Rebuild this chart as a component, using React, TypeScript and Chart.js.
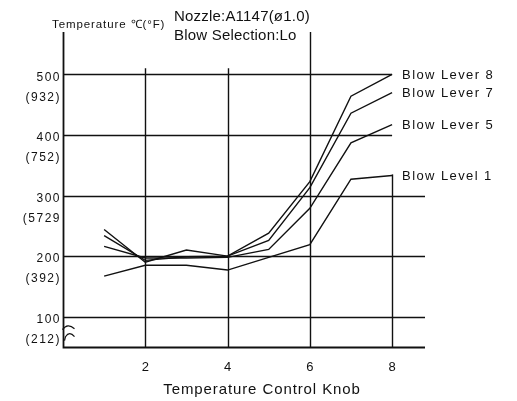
import React, { useEffect, useRef } from 'react';
import { Chart, registerables } from 'chart.js';

Chart.register(...registerables);

// ---- data ----
const knob = [1, 2, 3, 4, 5, 6, 7, 8];
const blowLevel1 = [167, 185, 185, 177, 198, 219, 327, 333];
const blowLever5 = [216, 197, 197, 198, 211, 279, 387, 417];
const blowLever7 = [234, 193, 199, 200, 226, 313, 436, 470];
const blowLever8 = [244, 190, 210, 200, 238, 323, 464, 500];
const seriesNames = ['Blow Level 1', 'Blow Lever 5', 'Blow Lever 7', 'Blow Lever 8'];
const xTicks = [2, 4, 6, 8];
const yTicksC = ['100', '200', '300', '400', '500'];
const yTicksF = ['(212)', '(392)', '(5729', '(752)', '(932)'];
const titleLines = ['Nozzle:A1147(ø1.0)', 'Blow Selection:Lo'];
const yAxisTitle = 'Temperature ℃(°F)';
const xAxisTitle = 'Temperature Control Knob';

// ---- layout / style ----
const X_MIN = 0;
const X_MAX = 8.8;
const Y_MIN = 50;
const Y_MAX = 570;
const vGridTop: Record<number, number> = { 2: 510, 4: 510, 6: Y_MAX, 8: 335 };
const hGridRight: Record<string, number> = { '100': X_MAX, '200': X_MAX, '300': X_MAX, '400': 8, '500': 8 };
const INK = '#111';
const FONT = "'Liberation Sans', Arial, Helvetica, sans-serif";

const seriesValues = [blowLevel1, blowLever5, blowLever7, blowLever8];

const decorPlugin = {
  id: 'decor',
  beforeDatasetsDraw(chart: any) {
    const { ctx, scales } = chart;
    const xs = scales.x;
    const ys = scales.y;
    ctx.save();
    ctx.strokeStyle = INK;
    ctx.lineWidth = 1.4;
    // horizontal grid
    yTicksC.forEach((t) => {
      const y = Math.round(ys.getPixelForValue(Number(t))) + 0.5;
      ctx.beginPath();
      ctx.moveTo(xs.getPixelForValue(X_MIN), y);
      ctx.lineTo(xs.getPixelForValue(hGridRight[t]), y);
      ctx.stroke();
    });
    // vertical grid
    xTicks.forEach((t) => {
      const x = Math.round(xs.getPixelForValue(t)) + 0.5;
      ctx.beginPath();
      ctx.moveTo(x, ys.getPixelForValue(Y_MIN));
      ctx.lineTo(x, ys.getPixelForValue(vGridTop[t]));
      ctx.stroke();
    });
    // axes
    ctx.lineWidth = 1.8;
    const x0 = Math.round(xs.getPixelForValue(X_MIN)) + 0.5;
    const y0 = Math.round(ys.getPixelForValue(Y_MIN)) + 0.5;
    ctx.beginPath();
    ctx.moveTo(x0, ys.getPixelForValue(Y_MAX));
    ctx.lineTo(x0, y0);
    ctx.lineTo(xs.getPixelForValue(X_MAX), y0);
    ctx.stroke();
    // axis break marks
    const yb = ys.getPixelForValue(100);
    ctx.lineWidth = 1.2;
    ctx.beginPath();
    ctx.moveTo(x0 - 1, yb + 13);
    ctx.quadraticCurveTo(x0 + 4, yb + 6, x0 + 11, yb + 12);
    ctx.stroke();
    ctx.beginPath();
    ctx.moveTo(x0 + 1, yb + 24);
    ctx.lineTo(x0 + 2, yb + 20);
    ctx.quadraticCurveTo(x0 + 6, yb + 14, x0 + 11, yb + 20);
    ctx.stroke();
    ctx.restore();
  },
  afterDatasetsDraw(chart: any) {
    const { ctx, scales } = chart;
    const xs = scales.x;
    const ys = scales.y;
    ctx.save();
    ctx.fillStyle = INK;
    ctx.textBaseline = 'middle';

    // y tick labels
    ctx.font = `12px ${FONT}`;
    (ctx as any).letterSpacing = '1.5px';
    ctx.textAlign = 'right';
    const xr = xs.getPixelForValue(X_MIN) - 2;
    yTicksC.forEach((t, i) => {
      const y = ys.getPixelForValue(Number(t));
      ctx.fillText(t, xr, y + 3);
      ctx.fillText(yTicksF[i], xr, y + 23);
    });

    // x tick labels
    ctx.font = `13px ${FONT}`;
    (ctx as any).letterSpacing = '0px';
    ctx.textAlign = 'center';
    const yb = ys.getPixelForValue(Y_MIN);
    xTicks.forEach((t) => {
      ctx.fillText(String(t), xs.getPixelForValue(t), yb + 20);
    });

    // x axis title
    ctx.font = `15px ${FONT}`;
    (ctx as any).letterSpacing = '0.9px';
    ctx.fillText(xAxisTitle, 262, 390);

    // y axis title
    ctx.font = `11.5px ${FONT}`;
    (ctx as any).letterSpacing = '0.9px';
    ctx.textAlign = 'left';
    ctx.fillText(yAxisTitle, 52, 25);

    // chart title
    ctx.font = `15px ${FONT}`;
    (ctx as any).letterSpacing = '0.2px';
    ctx.fillText(titleLines[0], 174, 17);
    ctx.fillText(titleLines[1], 174, 36);

    // series end labels
    ctx.font = `13px ${FONT}`;
    (ctx as any).letterSpacing = '1.4px';
    chart.data.datasets.forEach((ds: any, i: number) => {
      const meta = chart.getDatasetMeta(i);
      const last = meta.data[meta.data.length - 1];
      ctx.fillText(ds.label, last.x + 10, last.y + 1);
    });
    ctx.restore();
  },
};

export default function App() {
  const ref = useRef<HTMLCanvasElement | null>(null);
  useEffect(() => {
    document.body.style.margin = '0';
    const canvas = ref.current;
    if (!canvas) return;
    const chart = new Chart(canvas, {
      type: 'line',
      data: {
        datasets: seriesValues.map((vals, i) => ({
          label: seriesNames[i],
          data: knob.map((k, j) => ({ x: k, y: vals[j] })),
          borderColor: INK,
          borderWidth: 1.4,
          pointRadius: 0,
          tension: 0,
          fill: false,
        })),
      },
      options: {
        animation: false,
        responsive: false,
        devicePixelRatio: 1,
        layout: { padding: { left: 63, right: 92, top: 32, bottom: 54 } },
        plugins: { legend: { display: false }, tooltip: { enabled: false }, title: { display: false } },
        scales: {
          x: { type: 'linear', min: X_MIN, max: X_MAX, display: false },
          y: { type: 'linear', min: Y_MIN, max: Y_MAX, display: false },
        },
      },
      plugins: [decorPlugin],
    } as any);
    return () => chart.destroy();
  }, []);
  return (
    <div style={{ width: 517, height: 401, background: '#fff' }}>
      <canvas ref={ref} width={517} height={401} style={{ display: 'block' }} />
    </div>
  );
}
